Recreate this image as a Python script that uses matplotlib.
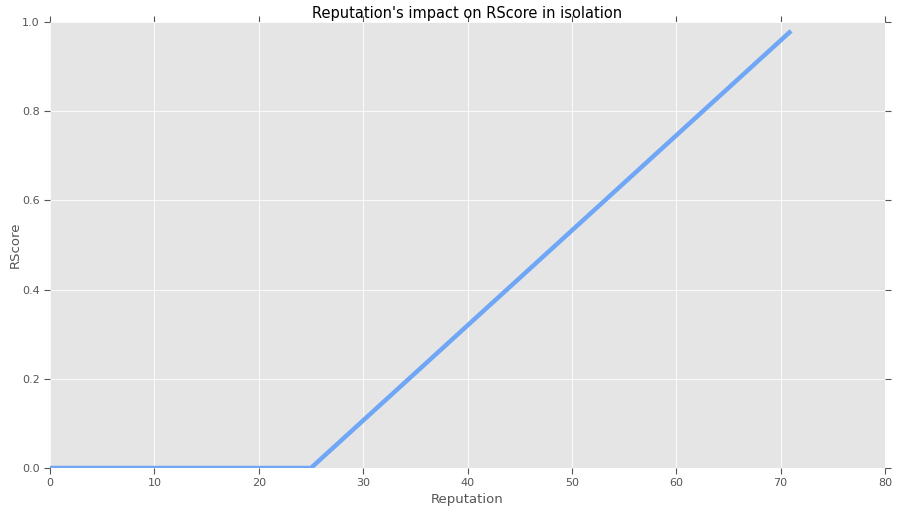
import matplotlib
matplotlib.use("Agg")
import matplotlib.pyplot as plt

reputation = [0, 25, 71]
rscore = [0.0, 0.0, 0.98]

fig = plt.figure(figsize=(8.99, 5.12), dpi=100)
ax = fig.add_axes([50/899, 1-468/512, 835/899, 446/512])
ax.set_facecolor('#e5e5e5')
ax.grid(True, color='white', linewidth=0.6)
ax.set_axisbelow(True)
for s in ax.spines.values():
    s.set_visible(False)
ax.plot(reputation, rscore, color='#6fa6f5', linewidth=3.2, solid_capstyle='butt')
ax.set_xlim(0, 80)
ax.set_ylim(0, 1.0)
ax.set_xticks(range(0, 81, 10))
ax.set_yticks([0.0, 0.2, 0.4, 0.6, 0.8, 1.0])
ax.set_yticklabels(['0.0', '0.2', '0.4', '0.6', '0.8', '1.0'])
ax.tick_params(direction='out', length=4, color='#555555', labelcolor='#555555', labelsize=8,
               top=True, right=True, width=0.8)
ax.set_xlabel('Reputation', fontsize=9.5, color='#555555', labelpad=3)
ax.set_ylabel('RScore', fontsize=9.5, color='#555555', labelpad=0)
ax.set_title("Reputation's impact on RScore in isolation", fontsize=10.5, pad=3)
fig.savefig('out.png', dpi=100)
